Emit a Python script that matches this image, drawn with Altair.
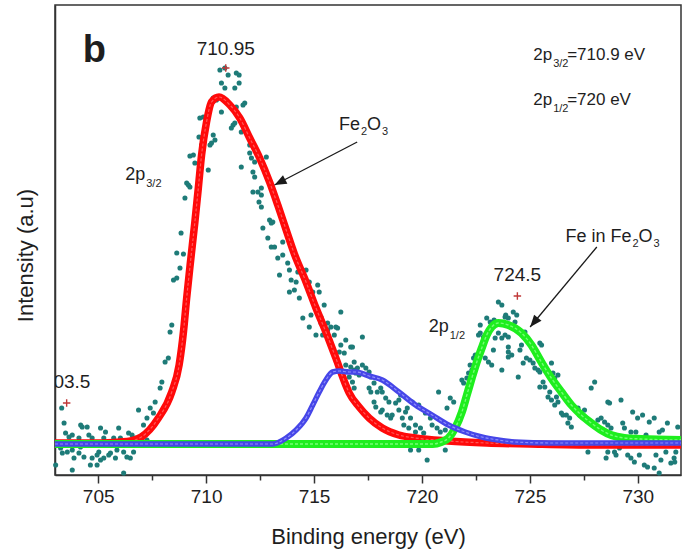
import altair as alt
import pandas as pd

FONT = "Liberation Sans"
TXT = "#1e1e1e"
TEAL = "#1e7b78"

# ---------------- measured spectrum (binding energy eV, intensity a.u.) ----------------
scatter_low = [
    (703.31, 67), (703.42, 52), (703.49, 42), (703.65, 38), (703.03, 10), (703.88, 17),
    (704.11, 37), (704.26, 48), (704.49, 48), (704.57, 40), (704.72, 37), (704.18, 28),
    (704.34, 18), (704.72, 17), (704.95, 10), (704.64, 10), (705.03, 23), (705.26, 37),
    (705.34, 43), (705.26, 17), (705.49, 20), (705.72, 37), (705.87, 25), (705.95, 47),
    (706.03, 37), (706.18, 23), (706.33, 18), (706.49, 17), (706.18, 2), (706.57, 40),
    (706.72, 37), (706.87, 65), (707.03, 37), (707.26, 35), (703.80, 25), (703.95, 30),
    (703.57, 23), (703.34, 22), (704.19, 50), (703.80, 40), (705.11, 47), (706.41, 42),
    (707.10, 50), (707.26, 57), (703.19, 32), (703.26, 27), (704.11, 22), (704.95, 20),
    (705.11, 15), (705.57, 22), (705.80, 17), (706.64, 23), (703.80, 5),
]
scatter_main = [
    (707.41, 67), (707.56, 62), (707.64, 73), (707.87, 87), (707.95, 93), (708.10, 113),
    (708.25, 117), (708.33, 143), (708.41, 150), (708.49, 195), (708.64, 197), (708.79, 207),
    (708.64, 222), (708.95, 221), (708.84, 242), (709.02, 277), (709.10, 292), (709.18, 290),
    (709.25, 288), (709.25, 319), (709.41, 320), (709.48, 312), (709.71, 357), (709.67, 338),
    (709.79, 330), (710.10, 305), (709.87, 358), (710.64, 405), (710.87, 407), (711.02, 400),
    (711.40, 402), (711.53, 400), (710.71, 392), (711.53, 392), (710.87, 387), (711.33, 387),
    (710.33, 377), (710.48, 375), (711.71, 370), (711.79, 372), (711.40, 368), (710.71, 363),
    (711.25, 350), (711.33, 352), (711.17, 347), (711.63, 343), (710.33, 340), (710.41, 335),
    (710.25, 332), (710.18, 330), (712.02, 330), (712.02, 322), (712.10, 317), (712.25, 313),
    (712.79, 318), (711.63, 308), (712.17, 303), (712.25, 298), (712.56, 287), (712.40, 283),
    (712.56, 280), (712.17, 283), (712.45, 273), (712.56, 268), (712.94, 255), (713.09, 253),
    (713.02, 252), (712.63, 247), (712.86, 237), (713.02, 228), (713.17, 228), (713.55, 233),
    (713.55, 220), (713.32, 217), (713.78, 212), (713.86, 205), (714.63, 205), (714.32, 207),
]
scatter_sat = [
    (713.40, 200), (714.25, 203), (713.94, 195), (714.17, 193), (714.78, 193), (715.17, 190),
    (713.86, 183), (714.09, 185), (714.32, 177), (714.94, 183), (715.24, 183), (715.01, 172),
    (715.47, 170), (714.48, 157), (714.86, 160), (715.32, 158), (716.24, 163), (714.78, 148),
    (715.32, 152), (715.63, 152), (715.78, 148), (715.63, 145), (716.01, 148), (716.09, 147),
    (715.94, 140), (715.09, 140), (715.40, 140), (716.24, 130), (716.47, 135), (716.70, 128),
    (716.17, 123), (716.40, 122), (716.01, 117), (716.47, 110), (716.70, 108), (717.01, 107),
    (716.93, 102), (716.78, 93), (716.86, 87), (716.63, 98), (717.24, 138), (716.78, 128),
    (716.86, 113), (717.24, 110), (717.40, 107), (717.55, 103), (717.63, 98), (716.86, 105),
    (717.09, 100), (717.78, 92), (717.55, 87), (717.63, 83), (717.93, 83), (718.09, 87),
    (718.16, 83), (717.78, 73), (717.86, 68), (718.16, 65), (718.09, 63), (718.32, 77),
    (718.47, 73), (718.39, 60), (718.55, 57), (718.62, 60), (718.78, 72), (718.93, 75),
    (719.01, 80), (718.93, 65), (719.24, 63), (719.32, 67), (719.09, 57), (719.47, 57),
    (719.16, 50), (719.39, 47), (719.70, 50), (719.55, 73), (719.85, 70), (719.70, 43),
    (719.93, 47), (720.08, 42), (720.16, 62), (720.39, 57), (720.47, 50), (719.47, 25),
    (719.85, 25), (720.24, 15), (720.77, 83), (720.70, 47), (720.85, 43), (721.08, 45),
    (721.08, 25), (721.16, 67), (721.31, 77), (721.47, 73),
]
scatter_high = [
    (721.85, 95), (721.93, 92), (722.08, 97), (722.16, 102), (722.23, 110), (722.31, 105),
    (722.39, 117), (722.47, 120), (722.62, 140), (722.70, 142), (722.85, 138), (723.00, 157),
    (723.16, 153), (722.93, 117), (723.08, 113), (723.23, 110), (723.31, 125), (723.39, 137),
    (723.54, 142), (723.70, 137), (723.85, 140), (723.54, 173), (723.70, 170), (723.85, 158),
    (724.00, 157), (724.23, 163), (723.70, 105), (724.00, 123), (724.16, 120), (724.31, 153),
    (724.39, 160), (722.70, 150), (723.23, 150), (723.88, 160), (723.34, 155), (724.23, 148),
    (724.77, 143), (724.84, 138), (724.00, 138), (724.00, 128), (724.61, 130), (724.54, 125),
    (725.46, 132), (725.54, 130), (724.00, 118), (724.69, 112), (724.84, 117), (725.00, 115),
    (724.46, 98), (725.15, 112), (725.23, 107), (725.38, 105), (725.46, 103), (726.00, 112),
    (725.61, 93), (725.69, 88), (725.46, 88), (726.07, 102), (726.15, 97), (726.30, 100),
    (725.92, 83), (725.84, 78), (726.00, 75), (726.23, 78), (726.30, 73), (726.15, 70),
    (726.46, 62), (726.53, 60), (726.69, 60), (726.84, 57), (726.76, 52), (726.92, 48),
    (727.23, 67), (727.30, 60), (727.53, 65), (727.61, 57), (727.84, 87), (728.00, 93),
    (727.69, 23), (728.15, 55), (728.30, 57), (728.46, 53), (728.61, 73), (728.69, 72),
    (729.22, 75), (728.61, 50), (728.76, 47), (728.53, 17), (728.61, 23), (728.92, 23),
    (728.99, 20), (729.30, 52), (729.38, 47), (729.15, 27), (729.30, 33), (729.76, 63),
    (729.99, 57), (730.22, 60), (729.68, 43), (729.91, 43), (729.53, 20), (729.68, 17),
    (729.84, 13), (730.07, 20), (730.30, 10), (730.45, 8), (730.53, 53), (730.76, 57),
    (730.38, 40), (730.61, 35), (730.84, 20), (731.07, 15), (731.30, 23), (731.53, 12),
    (731.68, 17), (730.99, 43), (731.14, 45), (731.37, 52), (731.76, 23), (730.76, 7),
    (730.99, 2), (731.85, 48), (731.71, 13),
]

# ---------------- fitted components ----------------
red_E = [703.0, 705.0, 706.0, 706.5, 707.0, 707.79, 708.41, 708.75, 708.95, 709.1, 709.26,
         709.48, 709.64, 709.79, 710.02, 710.25, 710.6, 711.1, 711.56, 712.02, 712.48,
         712.94, 713.32, 713.71, 714.09, 714.63, 715.09, 715.55, 716.01, 716.47, 716.63,
         717.09, 717.55, 718.16, 718.93, 719.7, 721.2, 723.0, 725.0, 728.0, 732.0]
red_I = [32, 32, 33, 34, 38, 57, 83, 110, 143, 177, 210,
         253, 287, 320, 353, 373, 378, 370, 357, 337, 317,
         293, 270, 245, 221, 193, 167, 143, 117, 90, 82,
         68, 57, 47, 40, 37, 34, 32, 31, 30, 30]

blue_E = [703.0, 713.09, 713.71, 714.17, 714.63, 714.94, 715.24, 715.55, 715.86, 716.17,
          716.63, 716.94, 717.55, 718.16, 718.93, 719.7, 720.47, 721.23, 722.0, 722.77,
          723.54, 724.3, 726.0, 732.0]
blue_I = [31, 31, 37, 45, 57, 70, 83, 95, 103, 104,
          103, 103, 99, 95, 83, 70, 60, 50, 43, 38,
          35, 33, 32, 32]

green_E = [703.0, 720.5, 720.9, 721.23, 721.54, 721.85, 722.08, 722.31, 722.54, 722.77,
           723.0, 723.23, 723.54, 724.0, 724.61, 725.07, 725.53, 725.99, 726.46, 726.92,
           727.38, 727.84, 728.3, 728.76, 729.38, 730.14, 732.0]
green_I = [31, 31, 33, 37, 47, 63, 80, 97, 113, 127,
           140, 148, 152, 150, 142, 130, 113, 97, 83, 70,
           60, 52, 45, 40, 37, 36, 35]

# ---------------- peak markers ----------------
peak_E = [703.54, 710.91, 724.42]
peak_I = [72, 407, 179]
peak_text = ["703.5", "710.95", "724.5"]
peak_text_I = [87, 420, 194]

# ---------------- arrows ----------------
arrow_E1 = [717.0, 728.1]
arrow_I1 = [333, 228]
arrow_E2 = [713.17, 725.01]
arrow_I2 = [290, 148]
arrow_angle = [242.6, 219.9]

# ---------------- annotation anchors ----------------
anchor_E = {"b": 704.28, "p32": 707.18, "fe2o3": 717.13, "fein": 729.71,
            "p12": 721.24, "info1": 726.03, "info2": 726.03}
anchor_I = {"b": 413, "p32": 295, "fe2o3": 345, "fein": 233,
            "p12": 143, "info1": 415, "info2": 370}

# ---------------- scales & axes ----------------
xs = alt.Scale(domain=[703, 732], nice=False, zero=False)
ys = alt.Scale(domain=[0, 470], nice=False, zero=False)

x_axis = alt.Axis(
    values=[705, 707.5, 710, 712.5, 715, 717.5, 720, 722.5, 725, 727.5, 730],
    labelExpr="datum.value % 5 === 0 ? '' + datum.value : ''",
    tickSize={"condition": {"test": "datum.value % 5 === 0", "value": 8}, "value": 5},
    grid=False, domainColor="#333333", domainWidth=1.5, tickColor="#333333", tickWidth=1.5,
    labelFont=FONT, labelFontSize=19, labelColor=TXT, labelPadding=4,
    title="Binding energy (eV)", titleFont=FONT, titleFontSize=22, titleFontWeight="normal",
    titleColor=TXT, titleBaseline="alphabetic", titleY=68,
)
y_axis = alt.Axis(
    labels=False, ticks=False, grid=False, domainColor="#333333", domainWidth=1.5,
    title="Intensity (a.u)", titleFont=FONT, titleFontSize=22, titleFontWeight="normal",
    titleColor=TXT, titleAngle=270, titleBaseline="alphabetic", titleAlign="center",
    titleX=-23, titleY=250,
)

X = alt.X("E:Q", scale=xs, axis=x_axis)
Y = alt.Y("I:Q", scale=ys, axis=y_axis)


def pts(rows):
    return pd.DataFrame(rows, columns=["E", "I"])


scatter_df = pd.concat([pts(scatter_low), pts(scatter_main), pts(scatter_sat), pts(scatter_high)])
red_df = pd.DataFrame({"E": red_E, "I": red_I})
blue_df = pd.DataFrame({"E": blue_E, "I": blue_I})
green_df = pd.DataFrame({"E": green_E, "I": green_I})

layers = []
layers.append(alt.Chart(scatter_df).mark_circle(size=26, color=TEAL, opacity=1).encode(x=X, y=Y))


def band(df, outer, inner, w_out, w_in):
    base = alt.Chart(df)
    return [
        base.mark_line(color=outer, strokeWidth=w_out, interpolate="monotone").encode(x=X, y=Y),
        base.mark_line(color=inner, strokeWidth=w_in, interpolate="monotone", opacity=0.8,
                       strokeDash=[3, 2]).encode(x=X, y=Y),
    ]


layers += band(red_df, "#ff0a0a", "#ff6a6a", 7.5, 1.2)
layers += band(green_df, "#1eee1e", "#8cff8c", 8, 1.4)
layers += band(blue_df, "#4646e8", "#a0a0ff", 5.5, 1.2)

peak_df = pd.DataFrame({"E": peak_E, "I": peak_I, "T": peak_text, "TI": peak_text_I})
layers.append(alt.Chart(peak_df).mark_point(
    shape="M-1,0L1,0M0,-1L0,1", size=56, filled=False, strokeWidth=1.4, color="#c03838", opacity=1
).encode(x=X, y=Y))
layers.append(alt.Chart(peak_df).mark_text(
    font=FONT, fontSize=19, color=TXT, align="center", baseline="alphabetic", clip=True
).encode(x=X, y=alt.Y("TI:Q", scale=ys, axis=y_axis), text="T:N"))

arrow_df = pd.DataFrame({"E": arrow_E1, "I": arrow_I1, "E2": arrow_E2, "I2": arrow_I2, "A": arrow_angle})
layers.append(alt.Chart(arrow_df).mark_rule(color="#1a1a1a", strokeWidth=1.3).encode(
    x=X, y=Y, x2="E2:Q", y2="I2:Q"))
layers.append(alt.Chart(arrow_df).mark_point(
    shape="M0,0L-0.4,1L0.4,1Z", size=576, filled=True, color="#1a1a1a", opacity=1
).encode(x=alt.X("E2:Q", scale=xs, axis=x_axis), y=alt.Y("I2:Q", scale=ys, axis=y_axis),
         angle=alt.Angle("A:Q", scale=None)))


def piece(key, text, size, align="left", dx=0, dy=0, weight="normal"):
    df = pd.DataFrame({"E": [anchor_E[key]], "I": [anchor_I[key]], "T": [text]})
    return alt.Chart(df).mark_text(
        font=FONT, fontSize=size, color=TXT, align=align, baseline="alphabetic",
        dx=dx, dy=dy, fontWeight=weight
    ).encode(x=X, y=Y, text="T:N")


layers += [
    piece("b", "b", 38, weight="bold"),
    piece("p32", "2p", 18, align="right"),
    piece("p32", "3/2", 11, dx=1, dy=7),
    piece("fe2o3", "Fe", 18, align="right"),
    piece("fe2o3", "2", 11, dx=1, dy=5),
    piece("fe2o3", "O", 18, dx=7),
    piece("fe2o3", "3", 11, dx=22, dy=5),
    piece("fein", "Fe in Fe", 18, align="right"),
    piece("fein", "2", 11, dx=1, dy=5),
    piece("fein", "O", 18, dx=7),
    piece("fein", "3", 11, dx=22, dy=5),
    piece("p12", "2p", 18, align="right"),
    piece("p12", "1/2", 11, dx=1, dy=7),
    piece("info1", "2p", 17, align="right"),
    piece("info1", "3/2", 11, dx=1, dy=7),
    piece("info1", "=710.9 eV", 17, dx=15),
    piece("info2", "2p", 17, align="right"),
    piece("info2", "1/2", 11, dx=1, dy=7),
    piece("info2", "=720 eV", 17, dx=15),
]

chart = alt.layer(*layers).properties(
    width=626, height=470,
    autosize=alt.AutoSizeParams(type="none"),
    padding={"left": 55, "top": 5, "right": 7, "bottom": 76},
    background="white",
).configure_view(stroke="#333333", strokeWidth=1.5)

chart.save("out.html", embed_options={"renderer": "svg", "actions": False})
